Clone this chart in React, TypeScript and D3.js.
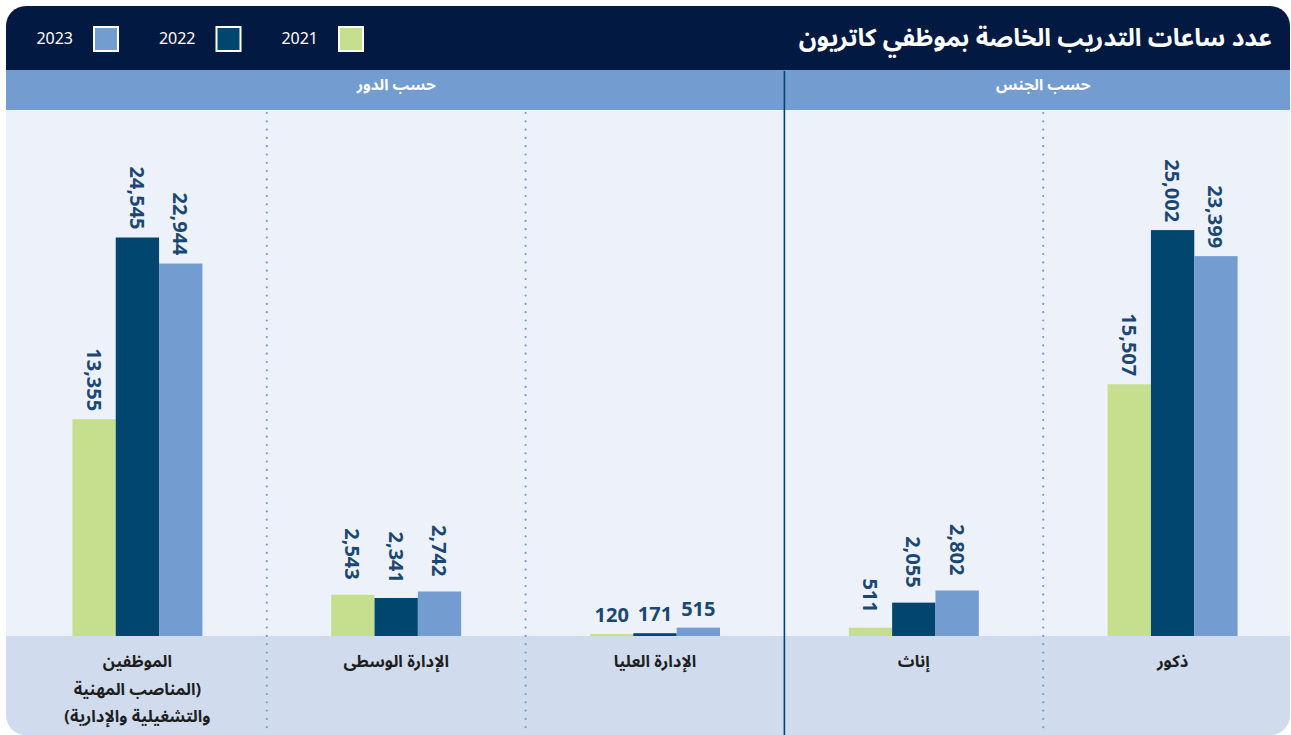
import React from "react";
import * as d3 from "d3";

const categories = ["ذكور", "إناث", "الإدارة العليا", "الإدارة الوسطى", "الموظفين"];
const categoryLines = [
  ["ذكور"],
  ["إناث"],
  ["الإدارة العليا"],
  ["الإدارة الوسطى"],
  ["الموظفين", "(المناصب المهنية", "والتشغيلية والإدارية)"],
];
const sectionNames = ["حسب الجنس", "حسب الدور"];
const sectionOf = [0, 0, 1, 1, 1];
const years = ["2021", "2022", "2023"];
const values2021 = [15507, 511, 120, 2543, 13355];
const values2022 = [25002, 2055, 171, 2341, 24545];
const values2023 = [23399, 2802, 515, 2742, 22944];
const seriesValues = [values2021, values2022, values2023];
const title = "عدد ساعات التدريب الخاصة بموظفي كاتريون";

const W = 1291;
const H = 735;
const colors = ["#c5df8f", "#00466e", "#739cd0"];
const FONT = "'Noto Sans Arabic', 'DejaVu Sans', 'Noto Sans', sans-serif";
const NUMFONT = "'Noto Sans', 'DejaVu Sans', sans-serif";

export default function App() {
  const cardX = 6, cardY = 6, cardW = 1284, cardH = 729;
  const headerBottom = 70;
  const bandBottom = 110;
  const baseline = 636;

  const x = d3.scaleBand<string>().domain(categories).range([1302, 8]).paddingInner(0).paddingOuter(0);
  const bw = x.bandwidth();
  const groupW = 130;
  const inner = d3.scaleBand<string>().domain(years).range([0, groupW]).padding(0);
  const y = d3.scaleLinear().domain([0, 32400]).range([baseline, bandBottom]);
  const fmt = d3.format(",");

  const sections = sectionNames.map((name, si) => {
    const idx = categories.map((c, i) => i).filter((i) => sectionOf[i] === si);
    const xs = idx.map((i) => x(categories[i]) as number);
    const x0 = Math.max(cardX, d3.min(xs) as number);
    const x1 = (d3.max(xs) as number) + bw;
    return { name, x0, x1 };
  });

  const separators = categories.slice(1).map((c, k) => {
    const i = k + 1;
    const xb = x(categories[i - 1]) as number;
    return { x: xb, solid: sectionOf[i] !== sectionOf[i - 1] };
  });

  const legendItems = years.map((yr, i) => ({ yr, color: colors[i], sx: 338 - i * 122.5 }));

  return (
    <svg width={W} height={H} style={{ position: "absolute", left: 0, top: 0, display: "block" }}>
      <defs>
        <clipPath id="card">
          <rect x={cardX} y={cardY} width={cardW} height={cardH} rx={20} ry={20} />
        </clipPath>
      </defs>
      <rect x={0} y={0} width={W} height={H} fill="#ffffff" />
      <g clipPath="url(#card)">
        <rect x={cardX} y={cardY} width={cardW} height={cardH} fill="#edf2fa" />
        <rect x={cardX} y={cardY} width={cardW} height={headerBottom - cardY} fill="#021a41" />
        <rect x={cardX} y={headerBottom} width={cardW} height={bandBottom - headerBottom} fill="#739cd0" />
        <rect x={cardX} y={baseline} width={cardW} height={cardY + cardH - baseline} fill="#d0dcee" />

        {separators.map((s, i) =>
          s.solid ? (
            <line key={i} x1={s.x} x2={s.x} y1={headerBottom + 1} y2={H} stroke="#004570" strokeWidth={1.6} />
          ) : (
            <line key={i} x1={s.x} x2={s.x} y1={113} y2={H} stroke="#739cd0" strokeWidth={2.2}
              strokeDasharray="0 8.3" strokeLinecap="round" />
          )
        )}

        {categories.map((c, ci) => {
          const cx = (x(c) as number) + bw / 2;
          const gx = cx - groupW / 2;
          const groupMax = d3.max(seriesValues, (s) => s[ci]) as number;
          const horizontal = groupMax < 1000;
          return (
            <g key={c}>
              {years.map((yr, si) => {
                const v = seriesValues[si][ci];
                const bx = gx + (inner(yr) as number);
                const by = y(v);
                const bwid = inner.bandwidth();
                const lx = bx + bwid / 2;
                return (
                  <g key={yr}>
                    <rect x={bx} y={by} width={bwid} height={baseline - by} fill={colors[si]} />
                    {horizontal ? (
                      <text x={lx} y={by - 12} textAnchor="middle" fontFamily={NUMFONT} fontWeight={700}
                        fontSize={20} fill="#1b4873">{fmt(v)}</text>
                    ) : (
                      <text transform={`translate(${lx},${by - (v >= 10000 ? 8 : 15)}) rotate(90)`}
                        textAnchor="end" dominantBaseline="central" fontFamily={NUMFONT} fontWeight={700}
                        fontSize={20} fill="#1b4873">{fmt(v)}</text>
                    )}
                  </g>
                );
              })}
              {categoryLines[ci].map((line, li) => (
                <text key={li} x={cx} y={667 + li * 27.5} textAnchor="middle" fontFamily={FONT}
                  direction="rtl" style={{ direction: "rtl", unicodeBidi: "embed" }}
                  fontWeight={700} fontSize={16.5} fill="#1e1e1e">{line}</text>
              ))}
            </g>
          );
        })}

        {sections.map((s) => (
          <text key={s.name} x={(s.x0 + s.x1) / 2} y={90} textAnchor="middle" fontFamily={FONT}
            fontWeight={700} fontSize={15.5} fill="#ffffff">{s.name}</text>
        ))}

        <text x={1272} y={46} textAnchor="end" fontFamily={FONT} fontWeight={700} fontSize={24.5} fill="#ffffff">
          {title}
        </text>

        {legendItems.map((it) => (
          <g key={it.yr}>
            <rect x={it.sx + 1} y={27} width={24} height={24} fill={it.color} stroke="#ffffff" strokeWidth={2} />
            <text x={it.sx - 20} y={44} textAnchor="end" fontFamily={NUMFONT} fontSize={16} fill="#ffffff">{it.yr}</text>
          </g>
        ))}
      </g>
    </svg>
  );
}
